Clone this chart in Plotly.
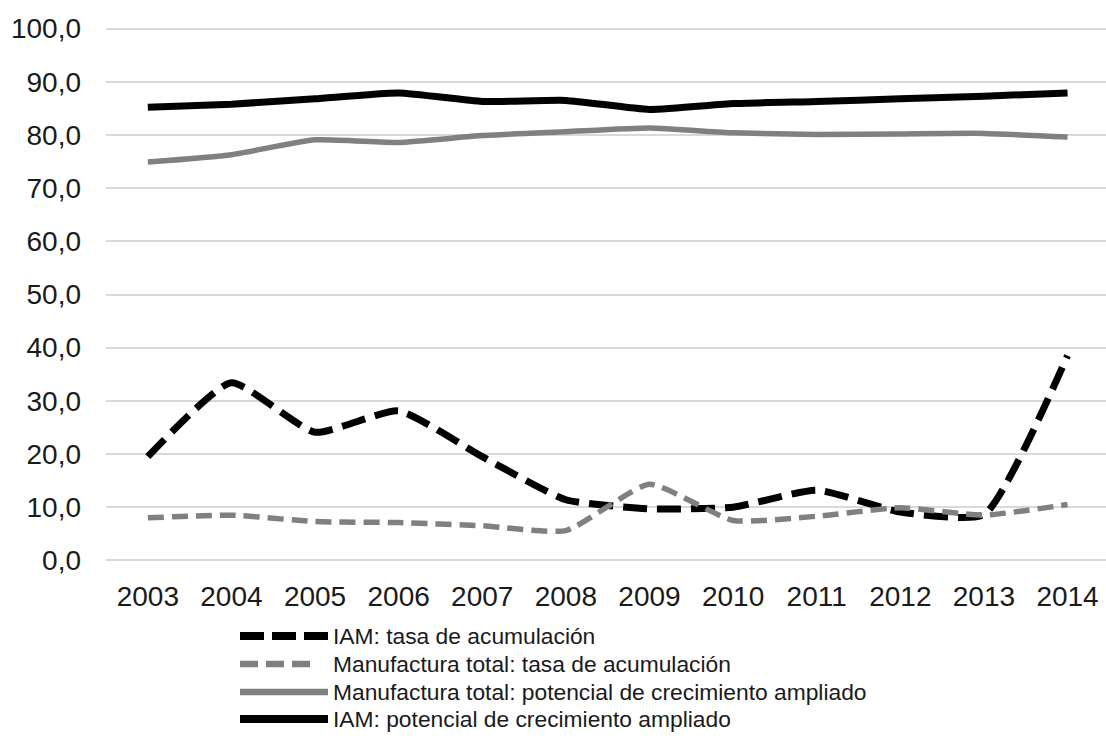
import plotly.graph_objects as go

years = ["2003", "2004", "2005", "2006", "2007", "2008",
         "2009", "2010", "2011", "2012", "2013", "2014"]

iam_tasa = [19.5, 33.4, 24.1, 28.1, 19.5, 11.4, 9.7, 10.0, 13.2, 9.1, 8.6, 38.5]
manuf_tasa = [8.0, 8.5, 7.3, 7.1, 6.5, 5.6, 14.3, 7.5, 8.3, 9.9, 8.5, 10.5]
manuf_potencial = [74.9, 76.3, 79.1, 78.6, 79.9, 80.6, 81.3, 80.4, 80.1, 80.2, 80.3, 79.6]
iam_potencial = [85.2, 85.8, 86.8, 87.9, 86.3, 86.5, 84.8, 85.9, 86.3, 86.8, 87.3, 87.9]

y_ticks = [0, 10, 20, 30, 40, 50, 60, 70, 80, 90, 100]

names = [
    "IAM: tasa de acumulación",
    "Manufactura total: tasa de acumulación",
    "Manufactura total: potencial de crecimiento ampliado",
    "IAM: potencial de crecimiento ampliado",
]
values = [iam_tasa, manuf_tasa, manuf_potencial, iam_potencial]
colors = ["#000000", "#808080", "#808080", "#000000"]
widths = [7, 5.5, 5.5, 7]
dashes = ["24px,10px", "16px,8px", "solid", "solid"]
legend_dashes = ["24px,8px", "18px,8px", "solid", "solid"]
legend_ends = [328, 318, 328, 328]

W, H = 1106, 749
ML, MR, MT, MB = 106, 0, 18, 178
FONT = "Liberation Sans, Arial, sans-serif"

fig = go.Figure()
for name, vals, col, w, d in zip(names, values, colors, widths, dashes):
    fig.add_trace(go.Scatter(
        x=years, y=vals, name=name, mode="lines",
        line=dict(color=col, width=w, dash=d, shape="spline", smoothing=0.5),
        showlegend=False,
    ))

# pixel -> paper helpers for the hand-built legend below the plot
pw, ph = W - ML - MR, H - MT - MB
def px_x(x):
    return (x - ML) / pw
def px_y(y):
    return (H - MB - y) / ph

legend_rows = [636, 664, 692, 719]
shapes = []
annotations = []
for row, name, col, w, d, x_end in zip(legend_rows, names, colors, widths,
                                       legend_dashes, legend_ends):
    shapes.append(dict(
        type="line", xref="paper", yref="paper",
        x0=px_x(240), x1=px_x(x_end), y0=px_y(row), y1=px_y(row),
        line=dict(color=col, width=w + 1, dash=d),
    ))
    annotations.append(dict(
        text=name, xref="paper", yref="paper",
        x=px_x(331), y=px_y(row), xanchor="left", yanchor="middle",
        showarrow=False, font=dict(family=FONT, size=22.8, color="#1a1a1a"),
    ))

fig.update_layout(
    width=W, height=H,
    margin=dict(l=ML, r=MR, t=MT, b=MB, pad=0),
    paper_bgcolor="white", plot_bgcolor="white",
    separators=", ",
    font=dict(family=FONT, size=28, color="#1a1a1a"),
    shapes=shapes, annotations=annotations,
)
fig.update_xaxes(
    type="category", range=[-0.5, 11.46],
    showgrid=False, showline=False, zeroline=False,
    ticks="", ticklabelstandoff=6,
    tickfont=dict(family=FONT, size=28, color="#1a1a1a"),
)
fig.update_yaxes(
    range=[-2, 102], tickvals=y_ticks, tickformat=".1f",
    showgrid=True, gridcolor="#d9d9d9", gridwidth=1.5,
    zeroline=False, showline=False, ticks="", ticklabelstandoff=24,
    tickfont=dict(family=FONT, size=28, color="#1a1a1a"),
)

fig.write_html("out.html")
